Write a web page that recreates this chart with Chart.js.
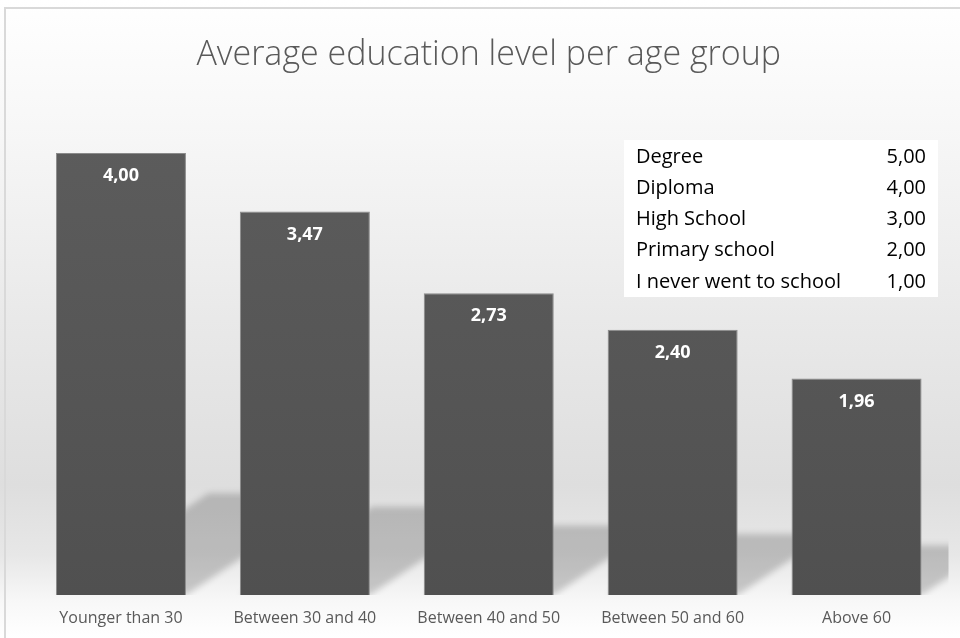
<!DOCTYPE html>
<html>
<head>
<meta charset="utf-8">
<script src="https://cdn.jsdelivr.net/npm/chart.js@4.4.1/dist/chart.umd.min.js"></script>
<style>
  html, body { margin: 0; padding: 0; background: #fff; }
  #wrap { width: 960px; height: 638px; }
</style>
</head>
<body>
<div id="wrap"><canvas id="myChart" width="960" height="638"></canvas></div>
<script>
const ageGroups = ['Younger than 30', 'Between 30 and 40', 'Between 40 and 50', 'Between 50 and 60', 'Above 60'];
const avgLevel = [4.00, 3.47, 2.73, 2.40, 1.96];
const educationLevels = ['Degree', 'Diploma', 'High School', 'Primary school', 'I never went to school'];
const levelScores = [5, 4, 3, 2, 1];

const FONT = '"Open Sans", "Noto Sans", sans-serif';

function commaNum(v) {
    return v.toFixed(2).replace('.', ',');
}

// grey gradient behind everything plus the thin frame
const backdrop = {
    id: 'backdrop',
    beforeDraw(chart) {
        const ctx = chart.ctx;
        const h = chart.height;
        const g = ctx.createLinearGradient(0, 0, 0, h);
        g.addColorStop(0, '#ffffff');
        g.addColorStop(0.2, '#f7f7f7');
        g.addColorStop(0.5, '#e9e9e9');
        g.addColorStop(0.76, '#dedede');
        g.addColorStop(0.87, '#e7e7e7');
        g.addColorStop(0.94, '#f7f7f7');
        g.addColorStop(1, '#ffffff');
        ctx.save();
        ctx.fillStyle = g;
        ctx.fillRect(0, 0, chart.width, h);
        ctx.strokeStyle = '#d9d9d9';
        ctx.lineWidth = 2;
        ctx.beginPath();
        ctx.moveTo(5, h);
        ctx.lineTo(5, 8);
        ctx.lineTo(chart.width, 8);
        ctx.stroke();
        ctx.restore();
    }
};

// slanted floor shadow behind each bar
const barShadows = {
    id: 'barShadows',
    beforeDatasetsDraw(chart) {
        const ctx = chart.ctx;
        const area = chart.chartArea;
        const bars = chart.getDatasetMeta(0).data;
        ctx.save();
        ctx.beginPath();
        ctx.rect(area.left, area.top, area.right - area.left, area.bottom - area.top);
        ctx.clip();
        ctx.filter = 'blur(3px)';
        ctx.fillStyle = 'rgba(0,0,0,0.19)';
        bars.forEach(bar => {
            const x0 = bar.x - bar.width / 2;
            const x1 = bar.x + bar.width / 2;
            const sh = (bar.base - bar.y) * 0.23;
            const dx = sh * 1.5;
            ctx.beginPath();
            ctx.moveTo(x0, bar.base);
            ctx.lineTo(x1, bar.base);
            ctx.lineTo(x1 + dx, bar.base - sh);
            ctx.lineTo(x0 + dx, bar.base - sh);
            ctx.closePath();
            ctx.fill();
        });
        ctx.restore();
    }
};

// white value labels inside the top of each bar
const valueLabels = {
    id: 'valueLabels',
    afterDatasetsDraw(chart) {
        const ctx = chart.ctx;
        const bars = chart.getDatasetMeta(0).data;
        ctx.save();
        ctx.fillStyle = '#ffffff';
        ctx.font = 'bold 18px ' + FONT;
        ctx.textAlign = 'center';
        ctx.textBaseline = 'middle';
        bars.forEach((bar, i) => {
            ctx.fillText(commaNum(avgLevel[i]), bar.x, bar.y + 23);
        });
        ctx.restore();
    }
};

// key of the education scores in the top right corner
const scoreKey = {
    id: 'scoreKey',
    afterDraw(chart) {
        const ctx = chart.ctx;
        const left = 624, top = 140, w = 314, rowH = 31.2;
        ctx.save();
        ctx.fillStyle = '#ffffff';
        ctx.fillRect(left, top, w, 157);
        ctx.fillStyle = '#000000';
        ctx.font = '20px ' + FONT;
        ctx.textBaseline = 'middle';
        educationLevels.forEach((name, i) => {
            const y = top + 17 + i * rowH;
            ctx.textAlign = 'left';
            ctx.fillText(name, left + 12, y);
            ctx.textAlign = 'right';
            ctx.fillText(commaNum(levelScores[i]), left + w - 12, y);
        });
        ctx.restore();
    }
};

const ctx = document.getElementById('myChart');

new Chart(ctx, {
    type: 'bar',
    data: {
        labels: ageGroups,
        datasets: [{
            data: avgLevel,
            backgroundColor: (c) => {
                const area = c.chart.chartArea;
                if (!area) return '#585858';
                const g = c.chart.ctx.createLinearGradient(0, area.top, 0, area.bottom);
                g.addColorStop(0, '#5d5d5d');
                g.addColorStop(1, '#505050');
                return g;
            },
            borderColor: '#8a8a8a',
            borderWidth: 1,
            categoryPercentage: 1,
            barPercentage: 0.707
        }]
    },
    options: {
        responsive: false,
        animation: false,
        layout: {
            padding: { left: 29, right: 11.5, top: 10, bottom: 0 }
        },
        plugins: {
            legend: { display: false },
            tooltip: { enabled: false },
            title: {
                display: true,
                text: 'Average education level per age group',
                color: '#595959',
                font: { family: FONT, size: 34, weight: '300' },
                padding: { top: 25, bottom: 21.95 }
            }
        },
        scales: {
            y: {
                display: false,
                min: 0,
                max: 4.5
            },
            x: {
                grid: { display: false, drawTicks: false },
                border: { display: false },
                afterFit(scale) {
                    scale.height = 43;
                },
                ticks: {
                    color: '#595959',
                    font: { family: FONT, size: 16 },
                    padding: 14
                }
            }
        }
    },
    plugins: [backdrop, barShadows, valueLabels, scoreKey]
});
</script>
</body>
</html>
